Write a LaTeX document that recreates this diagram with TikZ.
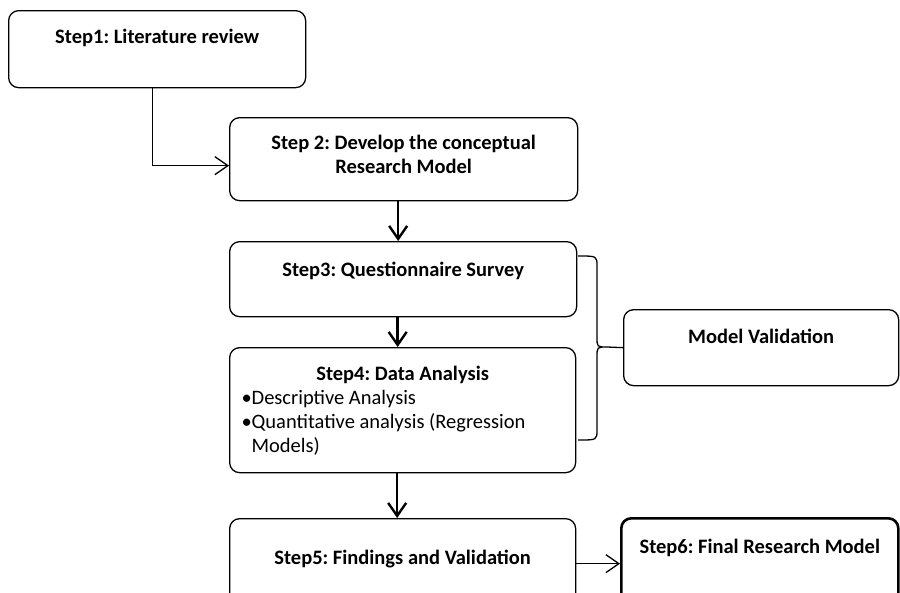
\documentclass[tikz,border=0pt]{standalone}
\usepackage{fontspec}
\setmainfont{Carlito}
\usetikzlibrary{arrows.meta}
\usetikzlibrary{positioning}

\begin{document}
\frenchspacing
\begin{tikzpicture}[x=1pt, y=-1pt, >={Straight Barb[length=13pt,width=18pt]},
  stepbox/.style={draw, rounded corners=10pt, line width=1.3pt, inner sep=0pt,
    anchor=north west, align=center, font=\fontsize{20.5}{24}\selectfont\bfseries},
  flow/.style={->, line width=2.4pt},
  link/.style={->, line width=1.3pt}]
  \clip (0,0) rectangle (900,592);

  \node[stepbox, minimum width=297pt, text height=33pt, text depth=44pt] (s1) at (8,10)
    {Step1: Literature review};
  \node[stepbox, minimum width=348pt, text height=56pt, text depth=27pt] (s2) at (229,117)
    {Step 2: Develop the conceptual\\Research Model};
  \node[stepbox, minimum width=347pt, text height=35pt, text depth=40pt] (s3) at (229,241)
    {Step3: Questionnaire Survey};
  \node[stepbox, text width=322pt, inner xsep=12pt, align=flush left, text height=33pt, text depth=92pt,
    font=\fontsize{20.5}{24}\selectfont] (s4) at (229,347)
    {{\centering\bfseries Step4: Data Analysis\par}
     \hangindent=10pt\hangafter=1\makebox[10pt][l]{\textbullet}Descriptive Analysis\par
     \hangindent=10pt\hangafter=1\makebox[10pt][l]{\textbullet}Quantitative analysis (Regression Models)\par};
  \node[stepbox, minimum width=346pt, text height=46pt, text depth=44pt] (s5) at (229,518)
    {Step5: Findings and Validation};
  \node[stepbox, line width=2.6pt, minimum width=277pt, text height=35pt, text depth=55pt] (s6) at (620,517)
    {Step6: Final Research Model};
  \node[stepbox, minimum width=275pt, text height=34pt, text depth=42pt] (mv) at (623,309)
    {Model Validation};

  \draw[link] ([xshift=-4.5pt]s1.south) |- ([yshift=-6.5pt]s2.west);
  \foreach \a/\b in {s2/s3, s3/s4, s4/s5}
    \draw[flow] ([xshift=-5.5pt]\a.south) -- ([xshift=-5.5pt]\a.south |- \b.north);
  \draw[link] (s5.east) -- (s5.east -| s6.west);

  \coordinate (tip) at (607,347);
  \draw[line width=1.3pt] (578,256) .. controls (597,256) .. (597,266) -- (597,337)
    .. controls (597,347) .. (tip) .. controls (597,347) .. (597,357) -- (597,430)
    .. controls (597,440) .. (578,440);
  \draw[line width=1.3pt] (tip) -- (mv.west);
\end{tikzpicture}
\end{document}
